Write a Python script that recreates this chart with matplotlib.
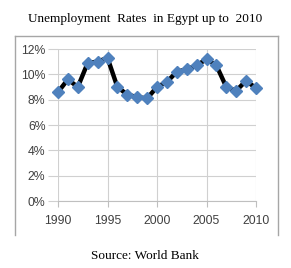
import matplotlib
matplotlib.use("Agg")
import matplotlib.pyplot as plt
from matplotlib.lines import Line2D

# DATA

years = list(range(1990, 2011))
rates = [8.6, 9.6, 9.0, 10.9, 11.0, 11.3, 9.0, 8.4, 8.2, 8.1, 9.0,
         9.4, 10.2, 10.4, 10.7, 11.2, 10.7, 9.0, 8.7, 9.5, 8.9]
yticks = [0, 2, 4, 6, 8, 10, 12]
xticks = [1990, 1995, 2000, 2005, 2010]

# FIGURE

fig = plt.figure(figsize=(2.91, 2.68), dpi=100)
ax = fig.add_axes([58 / 291, 1 - 201 / 268, 198 / 291, 152 / 268])

# chart frame (left, top, right only)
W, H = 291, 268
for xs, ys in [((15, 15), (235, 36)), ((15, 278), (36, 36)), ((278, 278), (36, 235))]:
    fig.add_artist(Line2D([x / W for x in xs], [1 - y / H for y in ys],
                          color="#a6a6a6", lw=1.0))

# PLOT

ax.plot(years, rates, color="black", lw=3.2, zorder=3, clip_on=False)
ax.plot(years, rates, ls="none", marker="D", ms=6.5, color="#4f81bd",
        mec="#4f81bd", zorder=4, clip_on=False)

ax.set_xlim(1990, 2010)
ax.set_ylim(0, 12)
ax.set_xticks(xticks)
ax.set_yticks(yticks)
ax.set_yticklabels([f"{v}%" for v in yticks])
ax.grid(True, color="#d0d0d0", lw=0.8)
ax.set_axisbelow(True)
for s in ["top", "right", "left"]:
    ax.spines[s].set_visible(False)
ax.spines["bottom"].set_color("#bfbfbf")
ax.tick_params(axis="y", length=7, width=0.8, color="#d0d0d0", labelsize=8.8,
               labelcolor="#404040", pad=2)
ax.tick_params(axis="x", length=4, width=0.8, color="#bfbfbf", labelsize=8.8,
               labelcolor="#404040", pad=6)
for lab in ax.get_xticklabels() + ax.get_yticklabels():
    lab.set_family("Liberation Sans")

fig.text(145 / W, 1 - 19 / H, "Unemployment  Rates  in Egypt up to  2010",
         ha="center", va="center", family="Liberation Serif", fontsize=9.5)
fig.text(145 / W, 1 - 256 / H, "Source: World Bank", ha="center",
         va="center", family="Liberation Serif", fontsize=9.5)

fig.savefig("out.png", dpi=100)
